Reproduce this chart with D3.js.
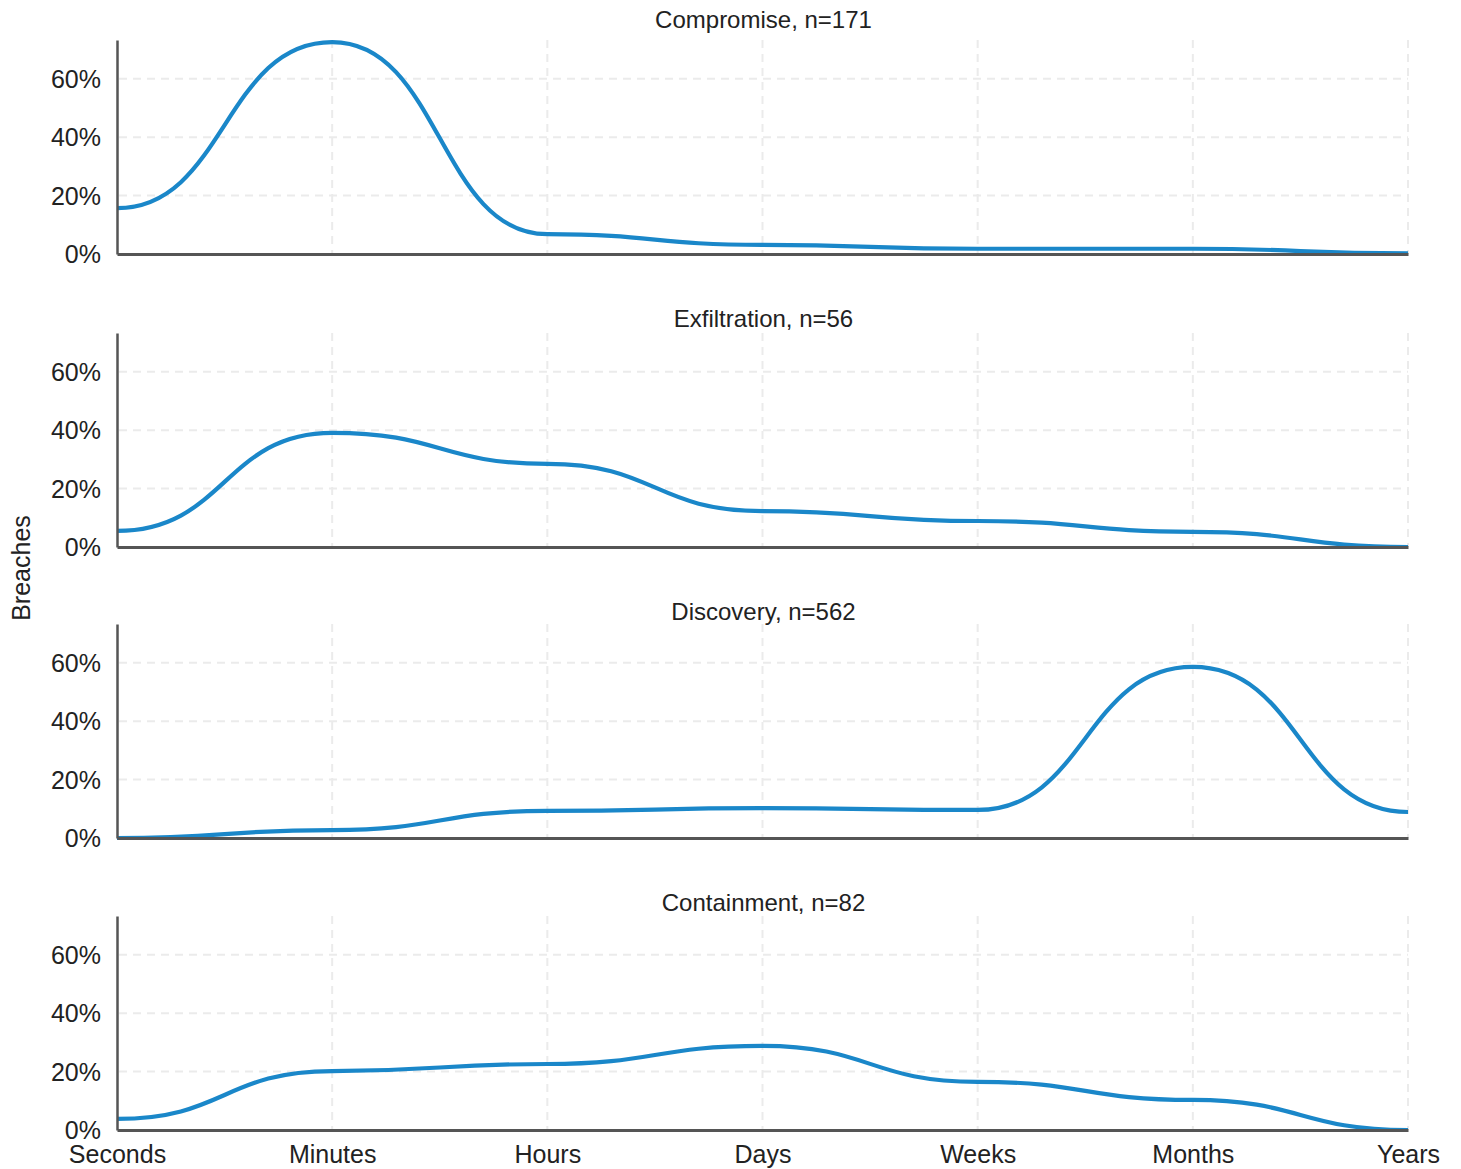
<!DOCTYPE html>
<html><head><meta charset="utf-8">
<script src="https://cdn.jsdelivr.net/npm/d3@7"></script>
<style>body{margin:0;background:#fff}</style>
</head><body>
<svg id="c" width="1461" height="1169"></svg>
<script>
const categories = ["Seconds","Minutes","Hours","Days","Weeks","Months","Years"];
const panelTitles = ["Compromise, n=171","Exfiltration, n=56","Discovery, n=562","Containment, n=82"];
const compromise  = [0.157,0.726,0.068,0.031,0.018,0.018,0.002];
const exfiltration= [0.055,0.391,0.285,0.123,0.089,0.052,0.000];
const discovery   = [0.000,0.027,0.093,0.102,0.096,0.586,0.089];
const containment = [0.038,0.202,0.226,0.288,0.165,0.103,0.000];
const yTicks = [0,0.2,0.4,0.6];
const series = [compromise, exfiltration, discovery, containment];

const svg = d3.select("#c");
const font = "'Liberation Sans', Arial, sans-serif";
const left = 117, right = 1408;
const panelTops = [40, 333, 624, 916];
const titleY = [28, 327, 620, 911];
const panelH = 214;
const x = d3.scalePoint().domain(categories).range([left, right]);

series.forEach((vals, i) => {
  const top = panelTops[i];
  const y = d3.scaleLinear().domain([0, 0.733]).range([top + panelH, top]);
  const g = svg.append("g");
  // title
  g.append("text").attr("x", (left + right) / 2 + 1).attr("y", titleY[i])
    .attr("text-anchor", "middle").attr("font-family", font).attr("font-size", 24)
    .attr("fill", "#222").text(panelTitles[i]);
  // grid
  g.selectAll("line.hg").data(yTicks.filter(t => t > 0)).join("line")
    .attr("x1", left + 2).attr("x2", right).attr("y1", d => y(d)).attr("y2", d => y(d))
    .attr("stroke", "#ebebeb").attr("stroke-width", 2).attr("stroke-dasharray", "8,6");
  g.selectAll("line.vg").data(categories.slice(1)).join("line")
    .attr("x1", d => x(d)).attr("x2", d => x(d)).attr("y1", top).attr("y2", top + panelH)
    .attr("stroke", "#ebebeb").attr("stroke-width", 2).attr("stroke-dasharray", "8,6");
  // line
  const line = d3.line().x((d, j) => x(categories[j])).y(d => y(d)).curve(d3.curveBumpX);
  g.append("path").datum(vals).attr("d", line).attr("fill", "none")
    .attr("stroke", "#1a87c9").attr("stroke-width", 4.2);
  // y axis
  const ya = d3.axisLeft(y).tickValues(yTicks).tickFormat(d3.format(".0%")).tickSize(0).tickPadding(16);
  const yg = g.append("g").attr("transform", `translate(${left},0)`).call(ya);
  yg.select(".domain").attr("stroke", "#555").attr("stroke-width", 2.5);
  yg.selectAll("text").attr("font-family", font).attr("font-size", 25).attr("fill", "#222").attr("dy", "0.35em");
  // x axis baseline
  const xa = d3.axisBottom(x).tickSize(0).tickPadding(15);
  const xg = g.append("g").attr("transform", `translate(0,${top + panelH})`).call(xa);
  xg.select(".domain").attr("stroke", "#555").attr("stroke-width", 3);
  if (i === series.length - 1) {
    xg.selectAll("text").attr("font-family", font).attr("font-size", 25).attr("fill", "#222");
  } else {
    xg.selectAll("text").remove();
  }
});

svg.append("text").attr("transform", "translate(30,568) rotate(-90)")
  .attr("text-anchor", "middle").attr("font-family", font).attr("font-size", 25)
  .attr("fill", "#222").text("Breaches");
</script>
</body></html>
